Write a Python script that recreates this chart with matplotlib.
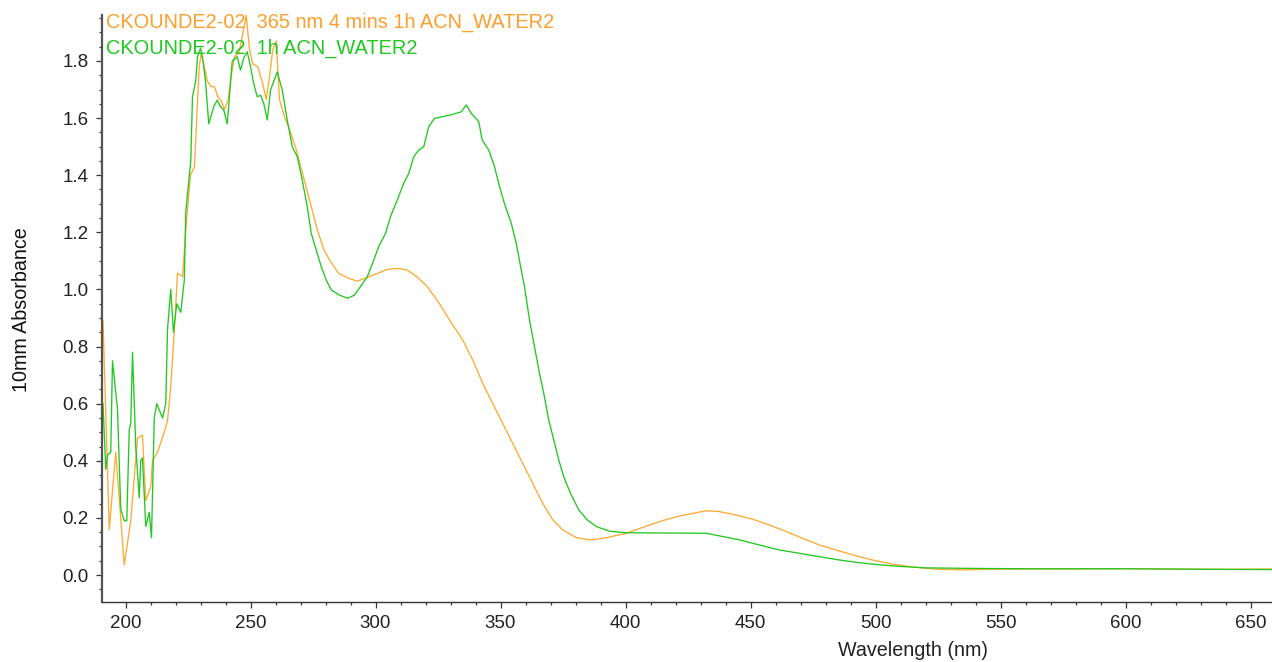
import matplotlib
matplotlib.use("Agg")
import matplotlib.pyplot as plt
from matplotlib.ticker import MultipleLocator, FormatStrFormatter

plt.rcParams['font.family'] = ['Liberation Sans', 'DejaVu Sans']

# Irradiated sample: 365 nm, 4 mins, 1h in ACN/water
wl_irr = [191.0, 193.5, 196.1, 199.5, 202.1, 204.8, 206.8, 208.1, 210.1, 210.8,
          212.8, 215.5, 216.8, 218.1, 219.5, 220.8, 222.8, 224.5, 226.0, 227.6,
          228.6, 229.5, 230.3, 232.7, 234.3, 235.6, 236.9, 238.3, 239.6, 241.0,
          242.3, 243.6, 245.5, 247.0, 248.3, 249.6, 250.9, 252.9, 254.9, 256.3,
          257.6, 258.9, 260.3, 261.6, 263.6, 265.6, 268.3, 271.3, 274.0, 276.7,
          279.3, 282.0, 285.3, 289.3, 292.7, 296.7, 300.7, 304.7, 308.7, 312.7,
          316.7, 320.7, 325.6, 329.6, 334.9, 338.9, 342.9, 346.9, 350.9, 354.9,
          358.9, 362.9, 366.9, 370.9, 374.9, 380.3, 385.6, 390.9, 400.3, 407.0,
          413.6, 420.3, 427.0, 432.3, 437.6, 444.3, 451.0, 457.6, 464.3, 471.0,
          477.6, 485.6, 493.6, 500.0, 507.0, 515.0, 525.0, 535.0, 545.0, 560.0,
          580.0, 600.0, 620.0, 640.0, 659.0]
abs_irr = [0.89, 0.16, 0.43, 0.035, 0.19, 0.48, 0.49, 0.26, 0.31, 0.40,
           0.43, 0.50, 0.54, 0.66, 0.85, 1.057, 1.045, 1.25, 1.40, 1.43,
           1.62, 1.78, 1.83, 1.73, 1.71, 1.71, 1.675, 1.66, 1.63, 1.66,
           1.75, 1.815, 1.83, 1.90, 1.96, 1.84, 1.79, 1.78, 1.72, 1.665,
           1.745, 1.84, 1.87, 1.665, 1.605, 1.56, 1.49, 1.39, 1.30, 1.21,
           1.14, 1.097, 1.056, 1.039, 1.029, 1.042, 1.056, 1.07, 1.074, 1.068,
           1.044, 1.01, 0.95, 0.893, 0.823, 0.753, 0.671, 0.60, 0.531, 0.461,
           0.391, 0.321, 0.251, 0.193, 0.158, 0.131, 0.123, 0.128, 0.146, 0.167,
           0.187, 0.204, 0.216, 0.225, 0.222, 0.21, 0.195, 0.175, 0.152, 0.128,
           0.105, 0.084, 0.064, 0.050, 0.038, 0.028, 0.020, 0.018, 0.020, 0.021,
           0.021, 0.022, 0.021, 0.020, 0.021]

# Reference sample: 1h in ACN/water
wl_ref = [191.0, 192.1, 192.8, 194.1, 194.8, 196.8, 198.1, 199.5, 200.5, 201.5,
          202.1, 202.8, 204.1, 205.5, 206.1, 206.8, 208.1, 209.5, 210.4, 211.5,
          212.5, 214.8, 216.1, 216.8, 218.1, 219.2, 220.5, 222.1, 223.5, 224.1,
          226.1, 226.8, 228.1, 228.8, 230.0, 231.0, 232.0, 233.3, 235.3, 236.7,
          238.0, 239.3, 240.7, 242.0, 242.7, 244.7, 246.0, 247.3, 248.7, 250.0,
          251.3, 252.7, 254.0, 255.3, 256.7, 258.0, 260.7, 262.7, 264.7, 266.7,
          268.7, 270.7, 272.7, 274.3, 276.3, 278.3, 280.3, 282.3, 285.6, 288.9,
          291.5, 294.0, 296.7, 299.3, 301.3, 304.0, 306.0, 308.7, 311.3, 313.3,
          315.3, 317.3, 319.3, 321.3, 323.6, 326.9, 330.9, 334.3, 336.3, 338.3,
          341.3, 342.7, 345.3, 347.6, 349.6, 351.6, 354.3, 356.3, 358.3, 359.6,
          361.6, 363.6, 365.6, 367.3, 369.3, 371.3, 373.3, 375.3, 378.0, 381.3,
          384.7, 388.5, 393.8, 400.3, 432.3, 437.6, 445.6, 453.6, 461.6, 469.6,
          477.6, 485.6, 493.6, 500.0, 510.0, 520.0, 540.0, 560.0, 600.0, 630.0,
          659.0]
abs_ref = [0.60, 0.37, 0.42, 0.43, 0.75, 0.58, 0.23, 0.19, 0.19, 0.51,
           0.53, 0.78, 0.45, 0.27, 0.40, 0.41, 0.17, 0.22, 0.13, 0.55,
           0.60, 0.55, 0.60, 0.86, 1.00, 0.85, 0.95, 0.92, 1.03, 1.27,
           1.45, 1.675, 1.73, 1.815, 1.845, 1.80, 1.73, 1.58, 1.64, 1.663,
           1.64, 1.628, 1.58, 1.72, 1.80, 1.815, 1.768, 1.81, 1.832, 1.78,
           1.72, 1.675, 1.68, 1.652, 1.593, 1.698, 1.762, 1.698, 1.593, 1.50,
           1.465, 1.383, 1.29, 1.196, 1.138, 1.08, 1.033, 0.998, 0.98, 0.969,
           0.98, 1.01, 1.044, 1.103, 1.15, 1.196, 1.255, 1.313, 1.372, 1.406,
           1.465, 1.488, 1.50, 1.57, 1.599, 1.605, 1.613, 1.622, 1.646, 1.617,
           1.587, 1.523, 1.488, 1.43, 1.36, 1.30, 1.232, 1.161, 1.068, 1.01,
           0.893, 0.80, 0.706, 0.636, 0.543, 0.473, 0.403, 0.344, 0.286, 0.228,
           0.193, 0.169, 0.153, 0.148, 0.146, 0.137, 0.123, 0.105, 0.0875, 0.076,
           0.064, 0.0525, 0.043, 0.037, 0.030, 0.025, 0.023, 0.022, 0.022, 0.020,
           0.019]

series_names = ["CKOUNDE2-02  365 nm 4 mins 1h ACN_WATER2",
                "CKOUNDE2-02  1h ACN_WATER2"]
series_colors = ["#FFAA33", "#22C822"]
text_colors = ["#FF9E2C", "#1EC81E"]

x_ticks = [200, 250, 300, 350, 400, 450, 500, 550, 600, 650]
y_ticks = [0.0, 0.2, 0.4, 0.6, 0.8, 1.0, 1.2, 1.4, 1.6, 1.8]

W, H = 1272, 662
fig = plt.figure(figsize=(W / 100, H / 100), dpi=100)
ax = fig.add_axes([102 / W, 1 - 602 / H, 1170 / W, 587 / H])

ax.plot(wl_irr, abs_irr, color=series_colors[0], lw=0.95)
ax.plot(wl_ref, abs_ref, color=series_colors[1], lw=0.95)

ax.set_xlim(190.6, 658.6)
ax.set_ylim(-0.0945, 1.961)

ax.set_xticks(x_ticks)
ax.set_yticks(y_ticks)
ax.yaxis.set_major_formatter(FormatStrFormatter('%.1f'))
ax.xaxis.set_minor_locator(MultipleLocator(10))
ax.yaxis.set_minor_locator(MultipleLocator(0.05))

for side in ("top", "right"):
    ax.spines[side].set_visible(False)
ax.spines["left"].set_color("#555555")
ax.spines["left"].set_linewidth(1.6)
ax.spines["bottom"].set_color("#333333")
ax.spines["bottom"].set_linewidth(1.0)

ax.tick_params(which="major", length=4.5, width=0.9, color="#333333",
               labelsize=13.5, labelcolor="#222222", pad=5)
ax.tick_params(which="minor", length=2.5, width=0.9, color="#333333")

fig.text(22 / W, 1 - 310 / H, "10mm Absorbance", rotation=90, ha="center",
         va="center", fontsize=14.2, color="#111111")
fig.text(913 / W, 1 - 651 / H, "Wavelength (nm)", ha="center", va="center",
         fontsize=14.2, color="#222222")

for i, (name, col) in enumerate(zip(series_names, text_colors)):
    fig.text(106 / W, 1 - (22 + 26 * i) / H, name, ha="left", va="center",
             fontsize=14.4, color=col)

fig.savefig("out.png", dpi=100)
